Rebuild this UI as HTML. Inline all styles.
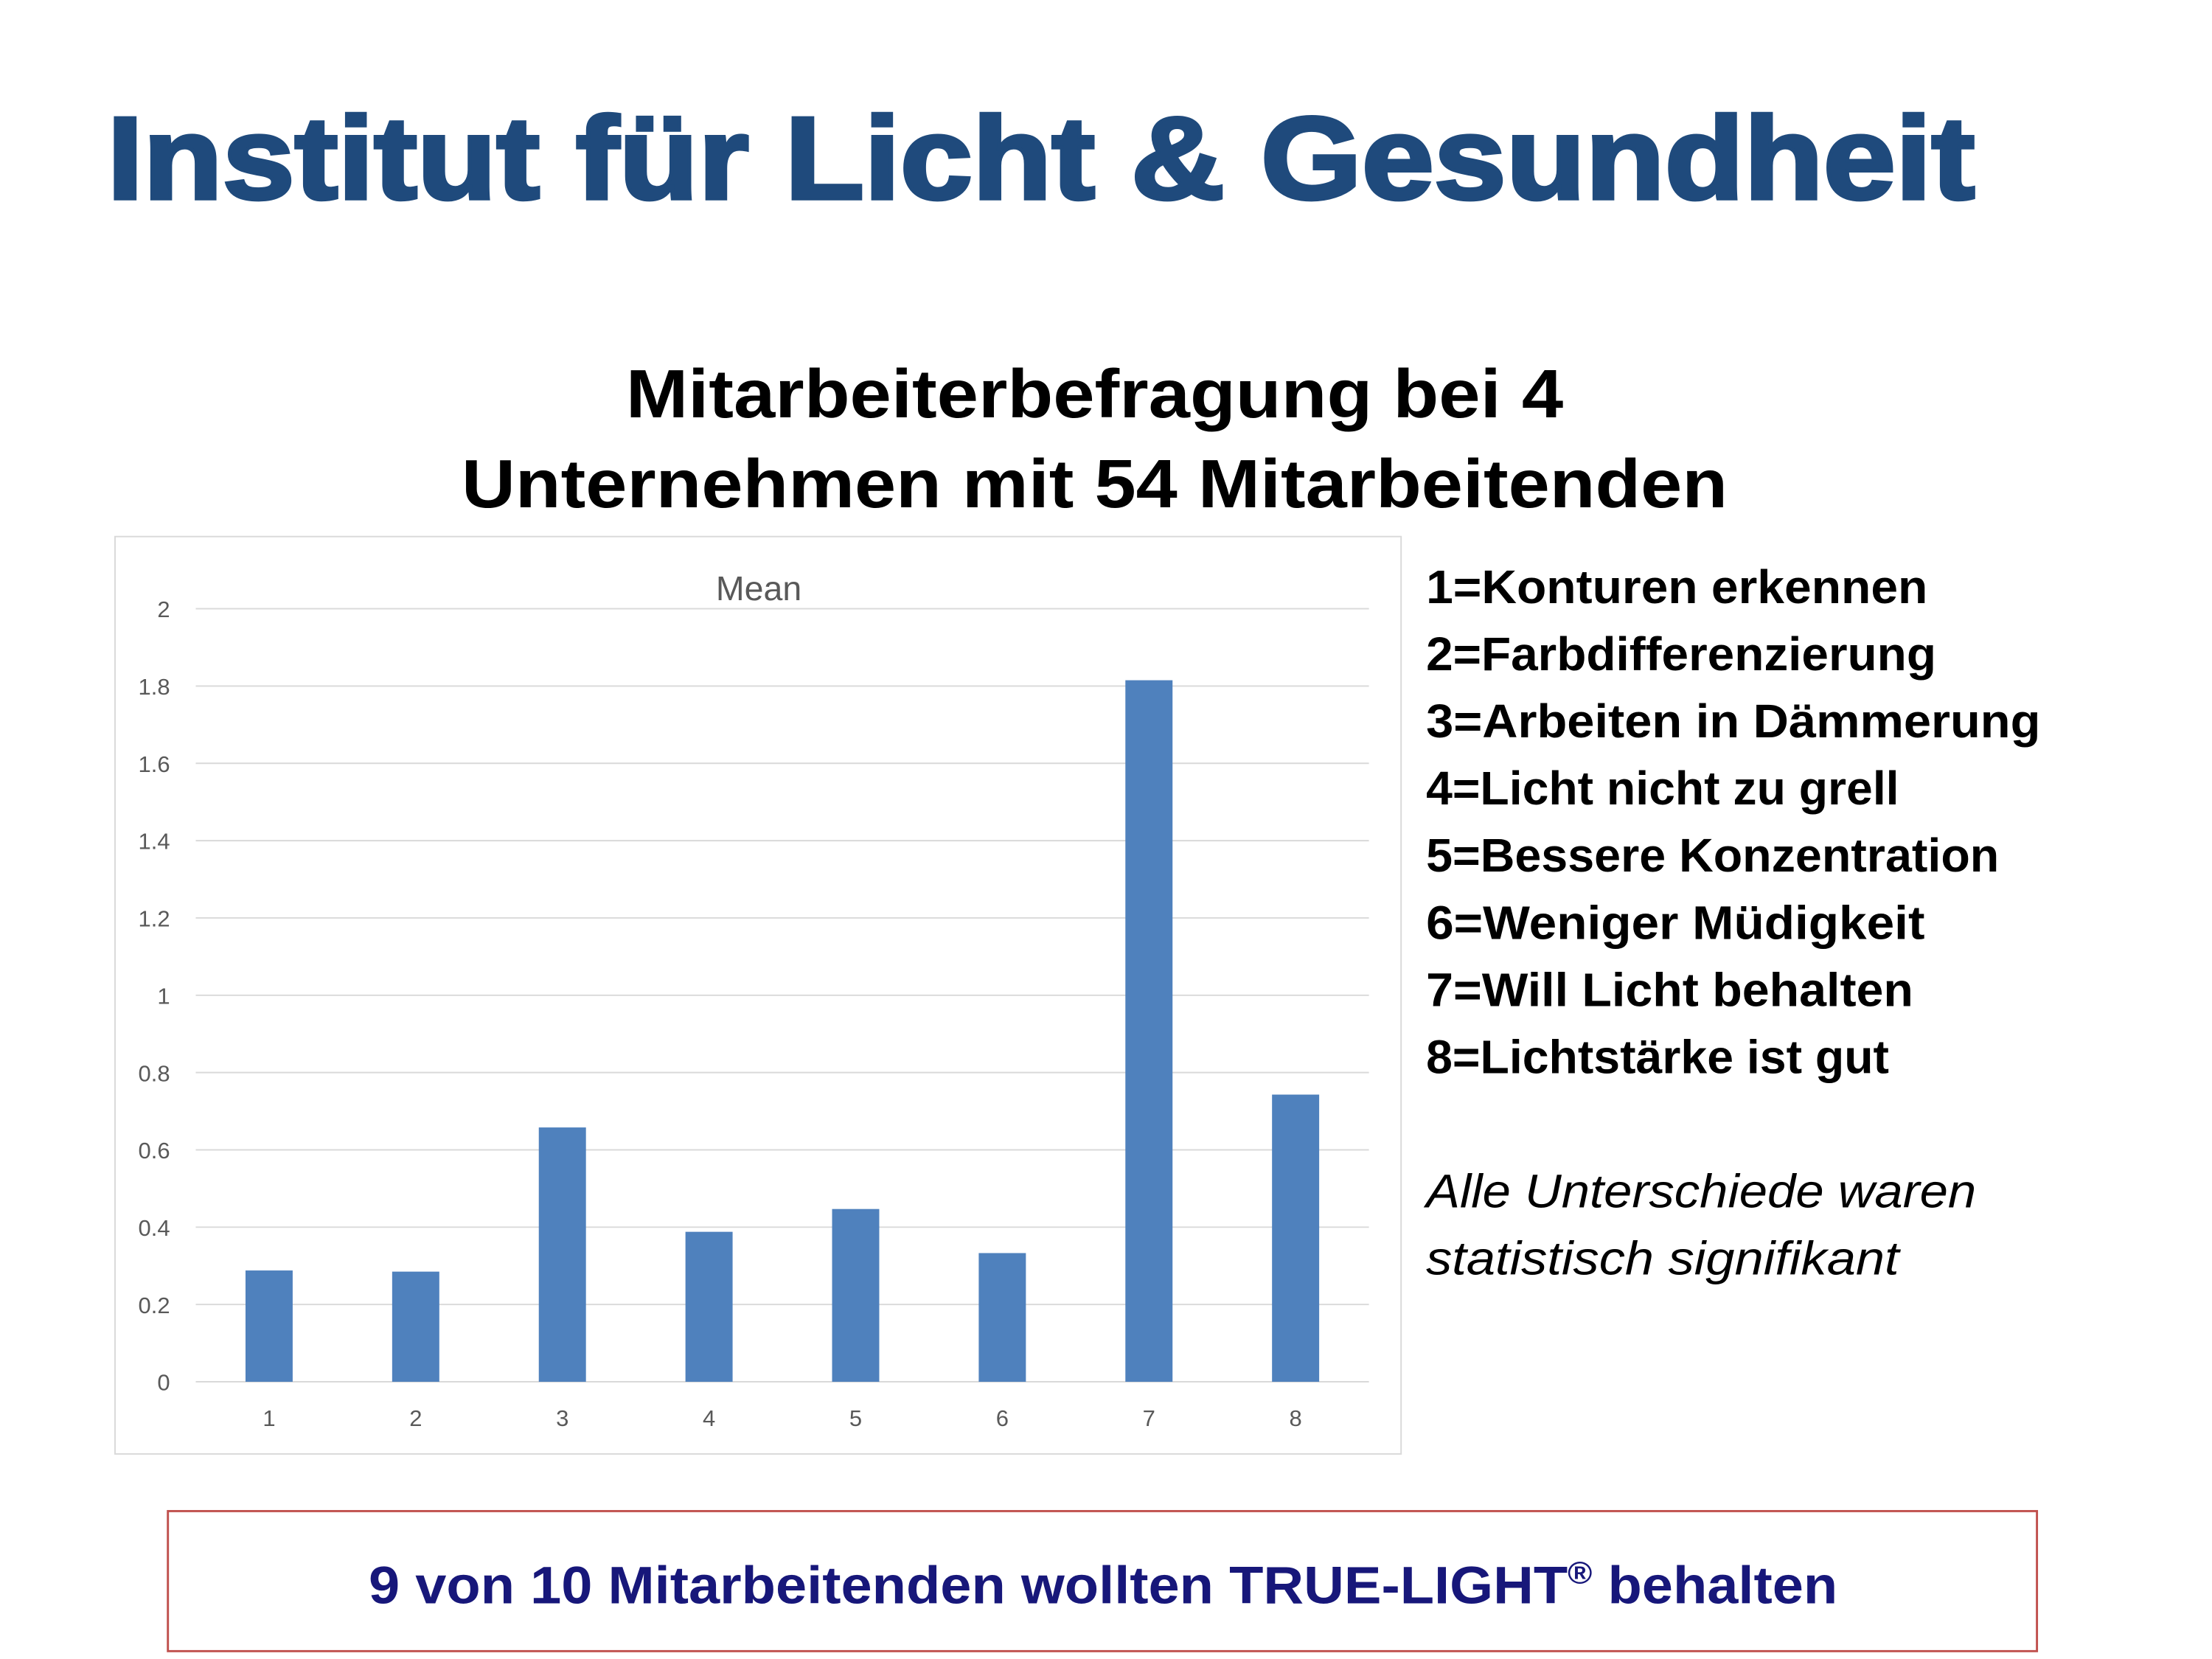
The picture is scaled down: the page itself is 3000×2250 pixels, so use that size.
<!DOCTYPE html>
<html><head><meta charset="utf-8"><style>html,body{margin:0;padding:0;background:#fff}svg{display:block}</style></head>
<body>
<svg id="s" width="3000" height="2250" viewBox="0 0 1548 1161" xmlns="http://www.w3.org/2000/svg" font-family="Liberation Sans, sans-serif">
<text x="75" y="139" font-size="82" font-weight="bold" fill="#1f4a7c" stroke="#1f4a7c" stroke-width="2.5" textLength="1307" lengthAdjust="spacingAndGlyphs">Institut für Licht &amp; Gesundheit</text>
<text x="766" y="292" font-size="48" font-weight="bold" text-anchor="middle" textLength="656" lengthAdjust="spacingAndGlyphs">Mitarbeiterbefragung bei 4</text>
<text x="766" y="355" font-size="48" font-weight="bold" text-anchor="middle" textLength="886" lengthAdjust="spacingAndGlyphs">Unternehmen mit 54 Mitarbeitenden</text>
<rect x="80.5" y="375.5" width="900" height="642" fill="#fff" stroke="#d9d9d9"/>
<text x="531" y="420" font-size="24" fill="#595959" text-anchor="middle">Mean</text>
<g id="grid"></g><g id="bars"></g><g id="labels"></g>
<g font-size="33" font-weight="bold" fill="#000">
<text x="998" y="422" textLength="351" lengthAdjust="spacingAndGlyphs">1=Konturen erkennen</text>
<text x="998" y="469" textLength="357" lengthAdjust="spacingAndGlyphs">2=Farbdifferenzierung</text>
<text x="998" y="516" textLength="430" lengthAdjust="spacingAndGlyphs">3=Arbeiten in Dämmerung</text>
<text x="998" y="563" textLength="331" lengthAdjust="spacingAndGlyphs">4=Licht nicht zu grell</text>
<text x="998" y="610" textLength="401" lengthAdjust="spacingAndGlyphs">5=Bessere Konzentration</text>
<text x="998" y="657" textLength="349" lengthAdjust="spacingAndGlyphs">6=Weniger Müdigkeit</text>
<text x="998" y="704" textLength="341" lengthAdjust="spacingAndGlyphs">7=Will Licht behalten</text>
<text x="998" y="751" textLength="324" lengthAdjust="spacingAndGlyphs">8=Lichtstärke ist gut</text>
</g>
<g font-size="33" font-style="italic" fill="#000">
<text x="998" y="845" textLength="385" lengthAdjust="spacingAndGlyphs">Alle Unterschiede waren</text>
<text x="998" y="892" textLength="331" lengthAdjust="spacingAndGlyphs">statistisch signifikant</text>
</g>
<rect x="117.5" y="1057.5" width="1308" height="98" fill="none" stroke="#c0504d" stroke-width="1.5"/>
<text x="258" y="1122" font-size="37" font-weight="bold" fill="#17177a" textLength="1028" lengthAdjust="spacingAndGlyphs">9 von 10 Mitarbeitenden wollten TRUE-LIGHT<tspan font-size="22" dy="-14">®</tspan><tspan dy="14"> behalten</tspan></text>
</svg>
<script>
const categories=["1","2","3","4","5","6","7","8"];
const meanValues=[0.288,0.285,0.658,0.388,0.447,0.333,1.815,0.743];
const yTicks=[0,0.2,0.4,0.6,0.8,1,1.2,1.4,1.6,1.8,2];
const yTickLabels=["0","0.2","0.4","0.6","0.8","1","1.2","1.4","1.6","1.8","2"];
const NS="http://www.w3.org/2000/svg";
const x0=137,x1=958,yb=967,yt=426,yMax=2;
const bw=(x1-x0)/categories.length;
const yScale=v=>yb-(v/yMax)*(yb-yt);
const xCenter=i=>x0+bw*(i+0.5);
const grid=document.getElementById('grid'),bars=document.getElementById('bars'),labels=document.getElementById('labels');
function mk(tag,attrs){const e=document.createElementNS(NS,tag);for(const k in attrs)e.setAttribute(k,attrs[k]);return e;}
yTicks.forEach((t,i)=>{
 const l=mk('line',{x1:x0,x2:x1,y1:yScale(t),y2:yScale(t),stroke:'#d9d9d9','stroke-width':1});
 
 
 grid.appendChild(l);
 const tx=mk('text',{x:119,y:yScale(t)+6,'font-size':16,fill:'#595959','text-anchor':'end'});
 tx.textContent=yTickLabels[i];
 
 
 labels.appendChild(tx);
});
categories.forEach((c,i)=>{
 const v=meanValues[i];
 const r=mk('rect',{x:xCenter(i)-16.5,y:yScale(v),width:33,height:yb-yScale(v),fill:'#4f81bd'});
 
 
 bars.appendChild(r);
 const tx=mk('text',{x:xCenter(i),y:998,'font-size':16,fill:'#595959','text-anchor':'middle'});
 tx.textContent=c;
 
 
 labels.appendChild(tx);
});
</script>
</body></html>
